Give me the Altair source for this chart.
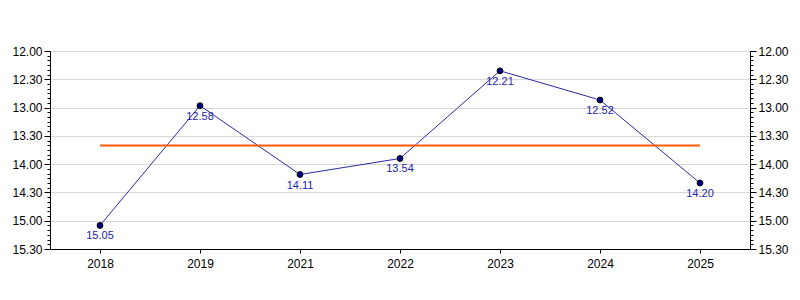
import altair as alt
import pandas as pd

years = ["2018", "2019", "2021", "2022", "2023", "2024", "2025"]
times = ["15.05", "12.58", "14.11", "13.54", "12.21", "12.52", "14.20"]

def to_sec(t):
    m, s = t.split(".")
    return int(m) * 60 + int(s)

secs = [to_sec(t) for t in times]
mean_sec = sum(secs) / len(secs)

df = pd.DataFrame({"year": years, "sec": secs, "label": times})

FONT = "Liberation Sans"
tick_vals = list(range(720, 931, 5))
label_expr = ("datum.value % 30 == 0 ? floor(datum.value/60) + '.' + "
              "(datum.value % 60 == 0 ? '00' : '30') : ''")
major = "datum.value % 30 === 0"

def yaxis(orient):
    return alt.Axis(
        orient=orient,
        values=tick_vals,
        labelExpr=label_expr,
        labelOverlap=False,
        labelFont=FONT,
        labelFontSize=12,
        labelColor="black",
        labelPadding=2,
        title=None,
        domainColor="black",
        tickColor="black",
        tickSize={"condition": {"test": major, "value": 6}, "value": 3},
        grid=(orient == "left"),
        gridColor="#d8d8d8",
        gridOpacity={"condition": {"test": major, "value": 1}, "value": 0},
    )

yscale = alt.Scale(domain=[720, 930], reverse=True, nice=False, zero=False)
xscale = alt.Scale(type="point", padding=0.5)
xaxis = alt.Axis(title=None, labelAngle=0, labelFont=FONT, labelFontSize=12,
                 labelColor="black", domainColor="black", tickColor="black",
                 tickSize=4, grid=False, labelPadding=5)

base = alt.Chart(df)

line = base.mark_line(color="#2a2aa8", strokeWidth=1).encode(
    x=alt.X("year:N", scale=xscale, axis=xaxis, sort=years),
    y=alt.Y("sec:Q", scale=yscale, axis=yaxis("left")),
)

mean_rule = alt.Chart(pd.DataFrame({"a": [0]})).mark_rule(
    color="#ff5a0a", strokeWidth=2
).encode(
    x=alt.datum("2018", type="nominal", scale=xscale),
    x2=alt.datum("2025"),
    y=alt.datum(mean_sec, type="quantitative", axis=None),
)

points = base.mark_point(filled=True, fill="#000080", stroke="black",
                         strokeWidth=1, size=34, opacity=1).encode(
    x=alt.X("year:N", sort=years),
    y=alt.Y("sec:Q", axis=None),
)

labels = base.mark_text(font=FONT, fontSize=11, color="#1c1cb0",
                        baseline="top", dy=5).encode(
    x=alt.X("year:N", sort=years),
    y=alt.Y("sec:Q", axis=None),
    text="label:N",
)

right = base.mark_point(opacity=0).encode(
    x=alt.X("year:N", sort=years),
    y=alt.Y("sec:Q", axis=yaxis("right")),
)

chart = alt.layer(line, mean_rule, points, labels, right).resolve_axis(
    y="independent"
).properties(
    width=700, height=198,
    autosize="none",
    padding={"left": 50, "top": 51, "right": 50, "bottom": 51},
    background="white",
).configure_view(stroke=None)

chart.save("out.html", embed_options={"renderer": "svg", "actions": False})
